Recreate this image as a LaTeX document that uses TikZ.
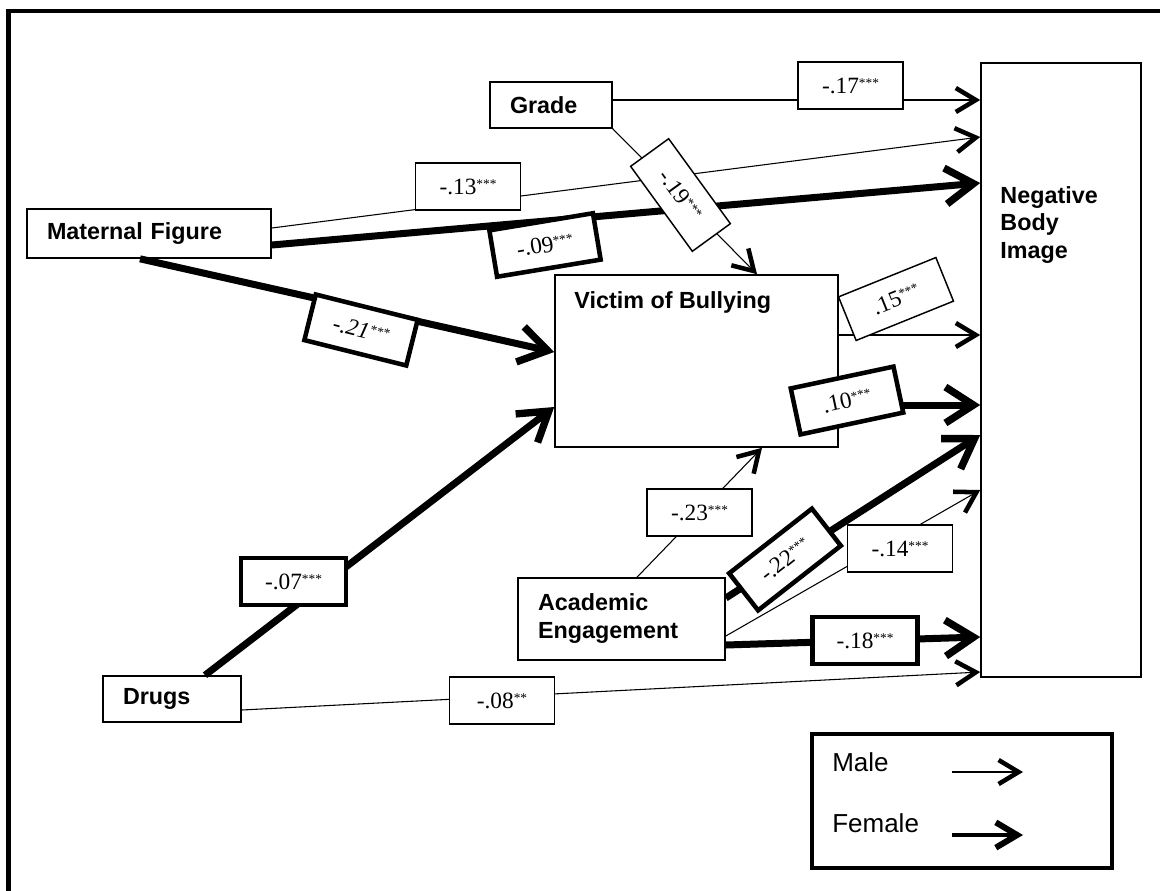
\documentclass[tikz,border=0pt]{standalone}
\usepackage{fontspec}
\setmainfont{Liberation Serif}
\setsansfont{Liberation Sans}
\usetikzlibrary{arrows.meta}
\newcommand\sig[1]{\raisebox{4.5pt}{\fontsize{10}{10}\selectfont #1}}
\begin{document}
\begin{tikzpicture}[x=0.75pt,y=-0.75pt,
  box/.style={draw, line width=1.2pt, fill=white, inner ysep=0pt, align=left,
    font=\sffamily\bfseries\fontsize{17.5}{21}\selectfont},
  lab/.style={draw, fill=white, line width=1.1pt, minimum width=78.75pt,
    minimum height=35.25pt, inner sep=0pt, font=\fontsize{17.5}{20}\selectfont},
  labF/.style={lab, line width=3.4pt},
  labI/.style={labF, font=\fontsize{17.5}{20}\selectfont\itshape},
  mtip/.tip={Straight Barb[length=15pt 0 1, width=18pt 0 1, line width=3.4pt 0 1]},
  ftip/.tip={Straight Barb[length=21pt 0 1, width=27pt 0 1, line width=5.5pt 0 1]},
  mline/.style={line width=0.8pt, -mtip},
  medline/.style={line width=1.9pt, -mtip},
  fline/.style={line width=5.25pt, -ftip},
  legtext/.style={anchor=west, inner sep=0pt, font=\sffamily\fontsize{19.5}{22}\selectfont}
]
\useasboundingbox (0,0) rectangle (1160,890);
\fill[white] (0,0) rectangle (1160,890);
\clip (0,0) rectangle (1160,890);
% outer frame (cropped at right and bottom)
\draw[line width=3.4pt] (8.5,11) rectangle (1175,905);

% main boxes
\node[box, minimum height=34.5pt, text width=61.5pt, inner xsep=15pt] (grade) at (551,105) {Grade};
\node[box, minimum height=36.75pt, text width=153pt, inner xsep=15pt] (mf) at (149,233.5) {Maternal Figure};
\node[box, minimum width=212.25pt, minimum height=129pt,
  label={[anchor=north west, inner sep=0pt, xshift=15pt, yshift=-12.75pt,
    font=\sffamily\bfseries\fontsize{17.5}{21}\selectfont]north west:Victim of Bullying}] (victim) at (696.5,361) {};
\node[box, minimum width=120pt, minimum height=460.5pt,
  label={[anchor=north west, inner sep=0pt, xshift=15pt, yshift=-93pt, align=left,
    font=\sffamily\bfseries\fontsize{17.5}{20.5}\selectfont]north west:Negative\\Body\\Image}] (nbi) at (1061,370) {};
\node[box, minimum height=61.5pt, text width=125.25pt, inner xsep=15pt] (ae) at (621.5,619) {Academic\\Engagement};
\node[box, minimum height=34.5pt, text width=73.5pt, inner xsep=15pt] (drugs) at (172,699) {Drugs};

% connectors
\draw[mline] (grade.east |- 0,100) -- (nbi.west |- 0,100);
\draw[mline] (grade.south east) -- (757,0 |- victim.north);
\draw[mline] (mf.east |- 0,228) -- (nbi.west |- 0,137);
\draw[fline] (mf.east |- 0,245) -- (nbi.west |- 0,183);
\draw[fline] (140,0 |- mf.south) -- (victim.west |- 0,352);
\draw[medline] (victim.east |- 0,335) -- (nbi.west |- 0,335);
\draw[fline] (victim.east |- 0,405) -- (nbi.west |- 0,405);
\draw[mline] (637,0 |- ae.north) -- (762,0 |- victim.south);
\draw[fline] (ae.east |- 0,598) -- (nbi.west |- 0,435);
\draw[mline] (ae.east |- 0,636) -- (nbi.west |- 0,490);
\draw[fline] (ae.east |- 0,645) -- (nbi.west |- 0,637);
\draw[fline] (205,0 |- drugs.north) -- (victim.west |- 0,407);
\draw[mline] (drugs.east |- 0,710) -- (nbi.west |- 0,672);

% coefficient labels
\node[lab] (l17) at (850.5,85.5) {-.17\sig{***}};
\node[lab] (l13) at (468,186.5) {-.13\sig{***}};
\node[labF, rotate=9.4] (l09) at (545,245) {-.09\sig{***}};
\node[lab, rotate=-54] (l19) at (680.5,195) {-.19\sig{***}};
\node[labI, rotate=-14] (l21) at (361,330) {-.21\sig{***}};
\node[lab, rotate=22] (l15) at (896,299) {.15\sig{***}};
\node[labF, rotate=12] (l10) at (847,400.5) {.10\sig{***}};
\node[lab] (l23) at (699.5,512.5) {-.23\sig{***}};
\node[labF, rotate=38] (l22) at (785,559.5) {-.22\sig{***}};
\node[lab] (l14) at (900,548.5) {-.14\sig{***}};
\node[labF] (l18) at (865,640.5) {-.18\sig{***}};
\node[labF] (l07) at (293.5,581.5) {-.07\sig{***}};
\node[lab] (l08) at (502,700.5) {-.08\sig{**}};

% legend
\node[draw, line width=3.5pt, minimum width=225pt, minimum height=100.5pt] (legend) at (962,801) {};
\node[legtext] (male) at (832,762) {Male};
\node[legtext] (female) at (832,823) {Female};
\coordinate (m1) at (952,772);
\coordinate (m2) at (1023,772);
\coordinate (f1) at (952,835);
\coordinate (f2) at (1023,835);
\draw[line width=1.1pt, -mtip] (m1) -- (m2);
\draw[line width=3.4pt, -{Straight Barb[length=16pt 0 1, width=19pt 0 1, line width=4.5pt 0 1]}] (f1) -- (f2);
\end{tikzpicture}
\end{document}
